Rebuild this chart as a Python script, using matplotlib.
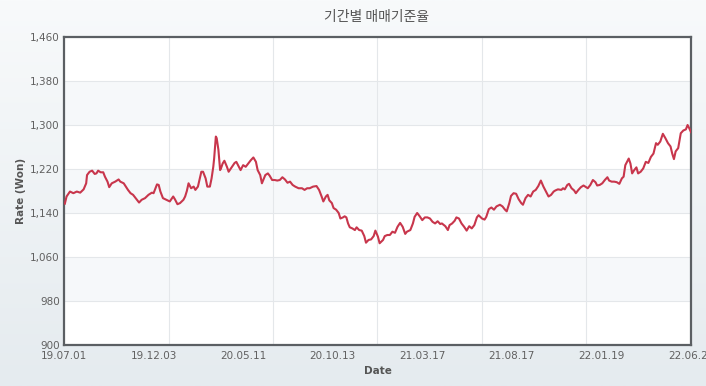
import numpy as np
import matplotlib
matplotlib.use("Agg")
import matplotlib.pyplot as plt
from matplotlib.colors import LinearSegmentedColormap

plt.rcParams['font.family'] = ['DejaVu Sans', 'Noto Sans CJK KR']

# trading-day index and rate (won)
days = [1, 3, 7, 11, 15, 19, 23, 26, 27, 30, 33, 36, 38, 40, 43, 46, 48, 51, 53, 56,
        60, 64, 66, 70, 73, 75, 78, 81, 84, 88, 91, 95, 99, 103, 105, 109, 111, 113, 116, 120,
        124, 128, 130, 133, 136, 140, 142, 144, 146, 149, 152, 154, 157, 161, 163, 166, 168, 171, 173, 175,
        176, 178, 179, 181, 183, 184, 186, 188, 191, 193, 197, 200, 202, 205, 207, 210, 213, 216, 219, 222,
        225, 227, 230, 232, 236, 239, 241, 244, 247, 250, 253, 256, 259, 262, 265, 268, 271, 275, 279, 282,
        285, 288, 292, 296, 299, 302, 304, 307, 309, 311, 314, 316, 319, 322, 324, 327, 329, 331, 333, 335,
        338, 341, 343, 346, 349, 352, 354, 357, 360, 363, 365, 368, 370, 374, 376, 379, 382, 385, 388, 391,
        394, 397, 400, 402, 406, 409, 411, 414, 417, 420, 423, 426, 429, 432, 435, 438, 441, 443, 447, 450,
        452, 455, 458, 460, 463, 466, 469, 472, 475, 478, 481, 484, 486, 490, 493, 495, 498, 501, 504, 507,
        511, 514, 517, 519, 522, 524, 527, 530, 533, 536, 538, 541, 544, 547, 550, 553, 556, 559, 562, 565,
        568, 571, 574, 576, 579, 583, 585, 587, 590, 592, 595, 598, 600, 603, 606, 609, 612, 614, 617, 620,
        623, 625, 628, 631, 634, 637, 639, 642, 645, 648, 651, 654, 656, 658, 660, 662, 664, 666, 668, 671,
        673, 676, 679, 682, 685, 688, 691, 694, 696, 699, 702, 705, 708, 711, 713, 715, 717, 720, 723, 726,
        729, 731, 733, 735]
rates = [1157, 1170, 1179, 1176, 1179, 1177, 1183, 1194, 1209, 1215, 1217, 1211, 1212, 1217, 1214, 1214, 1206, 1197, 1187, 1194,
         1197, 1201, 1197, 1194, 1187, 1182, 1176, 1173, 1167, 1159, 1164, 1167, 1173, 1177, 1176, 1192, 1191, 1179, 1167, 1164,
         1161, 1170, 1165, 1156, 1158, 1164, 1170, 1180, 1194, 1185, 1188, 1182, 1188, 1215, 1215, 1203, 1188, 1188, 1203, 1224,
         1239, 1279, 1276, 1255, 1218, 1221, 1230, 1235, 1224, 1215, 1224, 1231, 1233, 1224, 1218, 1227, 1224, 1230, 1236, 1241,
         1233, 1218, 1209, 1194, 1209, 1212, 1208, 1200, 1200, 1199, 1200, 1205, 1201, 1195, 1197, 1191, 1188, 1185, 1185, 1182,
         1185, 1185, 1188, 1189, 1182, 1170, 1161, 1170, 1173, 1163, 1158, 1149, 1146, 1140, 1130, 1132, 1134, 1132, 1121, 1114,
         1112, 1109, 1114, 1109, 1108, 1098, 1086, 1091, 1092, 1098, 1108, 1097, 1085, 1091, 1098, 1100, 1100, 1106, 1104, 1115,
         1122, 1115, 1102, 1106, 1109, 1121, 1133, 1140, 1134, 1127, 1132, 1132, 1130, 1124, 1121, 1125, 1120, 1121, 1116, 1109,
         1118, 1121, 1126, 1132, 1130, 1121, 1115, 1108, 1116, 1112, 1118, 1132, 1136, 1130, 1128, 1133, 1147, 1150, 1146, 1152,
         1155, 1152, 1146, 1143, 1158, 1171, 1176, 1175, 1165, 1158, 1155, 1167, 1173, 1170, 1179, 1182, 1189, 1199, 1188, 1179,
         1170, 1173, 1179, 1181, 1183, 1182, 1185, 1183, 1191, 1193, 1185, 1181, 1176, 1182, 1187, 1190, 1187, 1185, 1191, 1200,
         1196, 1190, 1191, 1194, 1200, 1205, 1199, 1197, 1197, 1196, 1193, 1203, 1206, 1227, 1233, 1239, 1230, 1212, 1217, 1223,
         1212, 1215, 1221, 1233, 1231, 1242, 1248, 1267, 1264, 1270, 1284, 1276, 1267, 1261, 1248, 1238, 1252, 1258, 1285, 1290,
         1292, 1300, 1294, 1287]

n_days = 735
tick_labels = ['19.07.01', '19.12.03', '20.05.11', '20.10.13', '21.03.17', '21.08.17', '22.01.19', '22.06.24']
y_ticks = [900, 980, 1060, 1140, 1220, 1300, 1380, 1460]

W, H = 706, 386
fig = plt.figure(figsize=(W / 100, H / 100), dpi=100)

# background gradient
bg = fig.add_axes([0, 0, 1, 1], zorder=-10)
cmap = LinearSegmentedColormap.from_list('bg', ['#f8fafb', '#e5ebef'])
bg.imshow(np.linspace(0, 1, 256).reshape(-1, 1), aspect='auto', cmap=cmap, extent=[0, 1, 0, 1])
bg.axis('off')

ax = fig.add_axes([64 / W, (H - 345) / H, 627 / W, 308 / H])
ax.set_facecolor('white')

for i in range(1, len(y_ticks) - 1, 2):
    ax.axhspan(y_ticks[i], y_ticks[i + 1], color='#f6f8fa', zorder=0, lw=0)
for y in y_ticks[1:-1]:
    ax.axhline(y, color='#e4e7ea', lw=0.8, zorder=1)
for x in np.linspace(0, n_days, 7)[1:-1]:
    ax.axvline(x, color='#e4e7ea', lw=0.8, zorder=1)

ax.plot(days, rates, color='#c8364c', lw=1.5, zorder=3)

ax.set_xlim(0, n_days)
ax.set_ylim(900, 1460)
ax.set_yticks(y_ticks)
ax.set_yticklabels([f'{v:,}' for v in y_ticks])
ax.set_xticks(np.linspace(0, n_days, 8))
ax.set_xticklabels(tick_labels)
ax.tick_params(length=0, labelsize=7.5, colors='#606060', pad=3)
ax.tick_params(axis='x', pad=4)

for s in ax.spines.values():
    s.set_color('#5b5f63')
    s.set_linewidth(1.6)

ax.set_xlabel('Date', fontsize=7.5, fontweight='bold', color='#555555', labelpad=4)
ax.set_ylabel('Rate (Won)', fontsize=7.5, fontweight='bold', color='#555555', labelpad=3)
fig.text(377 / W, 1 - 17 / H, '기간별 매매기준율', ha='center', va='center',
         fontsize=10, color='#555555', family=['Noto Sans CJK KR', 'DejaVu Sans'])

fig.savefig('out.png', dpi=100)
